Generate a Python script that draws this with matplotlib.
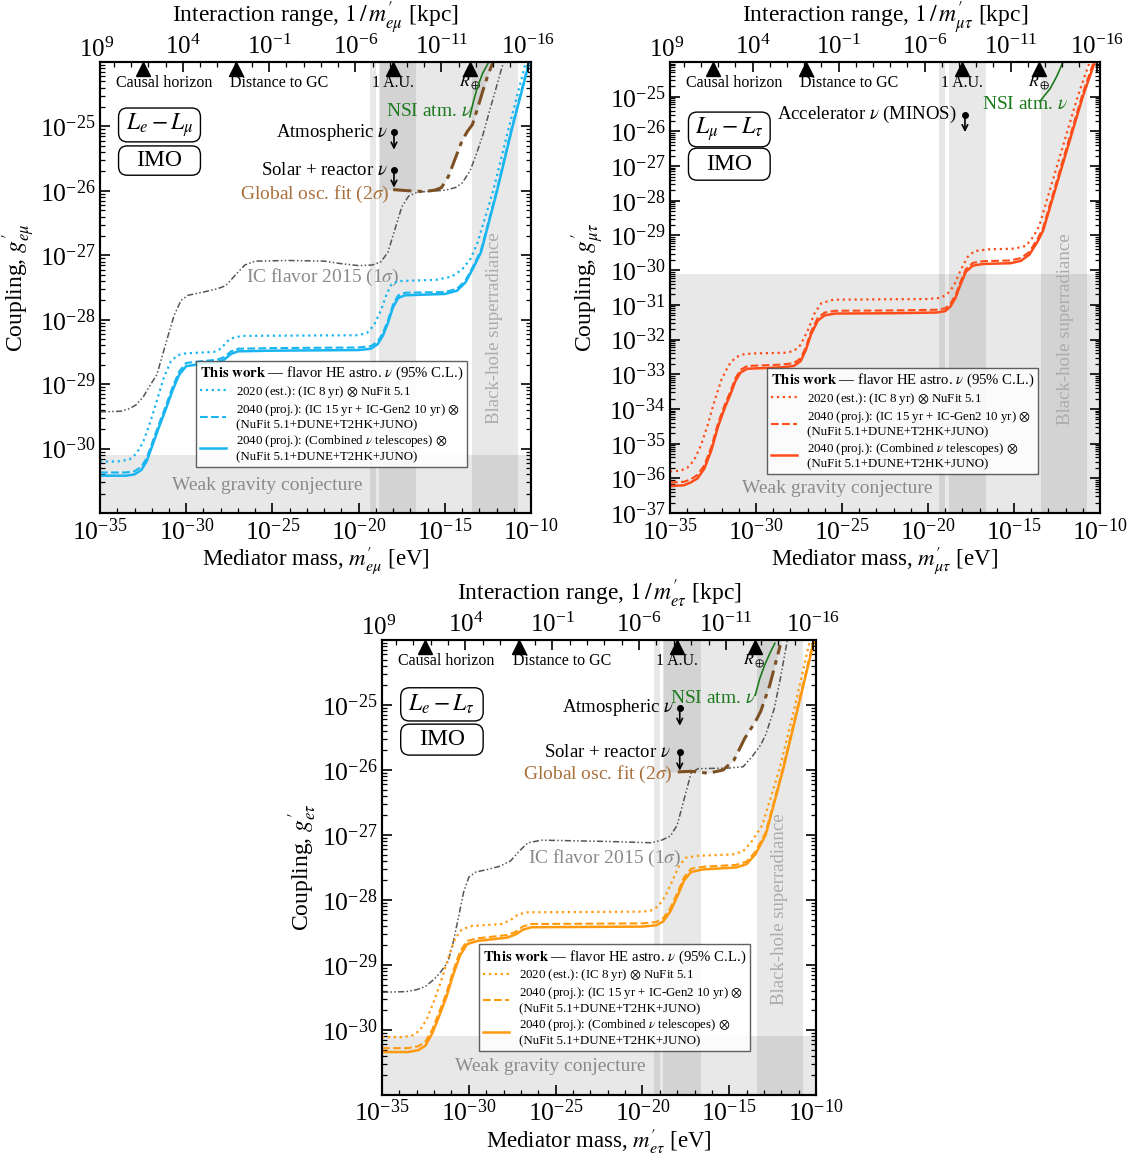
import numpy as np
import matplotlib
matplotlib.use("Agg")
import matplotlib.pyplot as plt
from matplotlib.lines import Line2D
from matplotlib.patches import FancyBboxPatch
from matplotlib.ticker import FixedLocator, LogLocator, NullFormatter

plt.rcParams['font.family'] = 'serif'
plt.rcParams['font.serif'] = ['Liberation Serif', 'DejaVu Serif']
plt.rcParams['mathtext.fontset'] = 'stix'

# hbar*c / kpc in eV  ->  range[kpc] = HBARC_KPC / m[eV]
HBARC_KPC = 6.395e-27

# ---------------- data (log10 m [eV], log10 g) ----------------
landmarks = [-32.5, -27.1, -18.0, -13.54]
landmark_labels = ['Causal horizon', 'Distance to GC', '1 A.U.', r'$R_\oplus$']
landmark_text_x = [-34.07, -27.46, -18.0, -13.54]
landmark_ha = ['left', 'left', 'center', 'center']
vbands = [(-19.35, -19.0), (-18.8, -16.65), (-13.4, -10.75)]
wgc_top = -30.1

# L_e - L_mu
emu_x = [-35.0, -33.5, -33.0, -32.6, -32.3, -32.0, -31.6, -31.2, -30.8, -30.4, -30.0, -29.0, -28.2, -27.8,
         -27.4, -27.0, -25.0, -20.0, -19.3, -18.9, -18.6, -18.3, -18.0, -17.7, -17.3, -15.0, -14.3, -13.8,
         -13.4, -12.9, -12.0, -11.1, -10.1]
emu_solid = [-30.42, -30.42, -30.40, -30.33, -30.20, -29.98, -29.68, -29.40, -29.10, -28.85, -28.72, -28.68,
             -28.66, -28.62, -28.53, -28.49, -28.48, -28.47, -28.45, -28.38, -28.25, -28.05, -27.80, -27.66,
             -27.62, -27.60, -27.55, -27.42, -27.22, -26.95, -26.03, -25.03, -24.0]
emu_dashed = [-30.37, -30.37, -30.35, -30.28, -30.15, -29.93, -29.63, -29.35, -29.05, -28.80, -28.67, -28.64,
              -28.62, -28.58, -28.49, -28.45, -28.44, -28.43, -28.41, -28.34, -28.21, -28.01, -27.76, -27.62,
              -27.58, -27.57, -27.52, -27.39, -27.19, -26.92, -26.0, -25.0, -23.97]
emu_dot_x = [-35.0, -34.0, -33.3, -32.9, -32.5, -32.1, -31.7, -31.3, -30.9, -30.5, -30.0, -28.4, -28.0, -27.6,
             -27.2, -26.6, -20.0, -19.5, -19.1, -18.7, -18.4, -18.1, -17.7, -15.5, -14.6, -14.0, -13.5, -13.1,
             -12.2, -11.3, -10.3]
emu_dotted = [-30.20, -30.20, -30.17, -30.08, -29.90, -29.60, -29.25, -28.90, -28.65, -28.55, -28.52, -28.50,
              -28.45, -28.33, -28.27, -28.25, -28.24, -28.20, -28.08, -27.85, -27.62, -27.45, -27.40, -27.38,
              -27.33, -27.22, -27.05, -26.80, -26.0, -25.03, -24.0]
emu_ic_x = [-35.0, -33.8, -33.3, -32.9, -32.5, -32.1, -31.7, -31.4, -31.0, -30.7, -30.3, -29.9, -29.0, -28.2,
            -27.7, -27.2, -26.6, -26.0, -24.0, -22.0, -21.0, -20.0, -19.2, -18.7, -18.3, -17.9, -17.5, -17.1,
            -16.6, -15.0, -14.4, -14.0, -13.54, -13.2, -12.78, -12.4, -11.97, -11.6]
emu_ic = [-29.43, -29.42, -29.38, -29.32, -29.20, -29.02, -28.85, -28.57, -28.20, -27.93, -27.70, -27.62, -27.57,
          -27.52, -27.47, -27.32, -27.15, -27.09, -27.08, -27.09, -27.13, -27.16, -27.15, -27.10, -26.95, -26.60,
          -26.25, -26.08, -26.02, -25.99, -25.95, -25.88, -25.69, -25.45, -25.12, -24.75, -24.35, -24.0]
emu_osc_x = [-18.0, -17.0, -16.2, -15.6, -15.2, -14.8, -14.4, -14.0, -13.7, -13.4, -13.1, -12.8, -12.5, -12.2]
emu_osc = [-25.98, -26.00, -26.01, -25.99, -25.95, -25.78, -25.50, -25.22, -25.08, -24.97, -24.72, -24.45,
           -24.20, -24.0]
emu_nsi_x = [-13.55, -13.35, -13.1, -12.8, -12.45]
emu_nsi = [-24.85, -24.62, -24.38, -24.17, -24.0]
emu_atm = (-17.95, -25.09)
emu_solar = (-17.95, -25.68)

# L_mu - L_tau
mt_x = [-35.0, -34.2, -33.8, -33.4, -33.0, -32.6, -32.2, -31.8, -31.5, -31.2, -30.9, -30.5, -28.5, -27.8,
        -27.4, -27.1, -26.8, -26.4, -26.0, -25.4, -22.0, -19.5, -19.0, -18.7, -18.4, -18.1, -17.8, -17.4,
        -16.8, -15.2, -14.6, -14.1, -13.6, -13.3, -12.2, -11.0, -10.3]
mt_solid = [-36.22, -36.20, -36.12, -36.0, -35.72, -35.2, -34.5, -33.95, -33.6, -33.2, -32.95, -32.84, -32.80,
            -32.76, -32.62, -32.30, -31.85, -31.45, -31.30, -31.25, -31.24, -31.22, -31.18, -31.05, -30.80,
            -30.40, -30.05, -29.87, -29.82, -29.80, -29.73, -29.55, -29.15, -28.85, -27.0, -25.0, -24.0]
mt_dashed = [-36.12, -36.10, -36.03, -35.9, -35.62, -35.1, -34.4, -33.86, -33.51, -33.12, -32.87, -32.76,
             -32.72, -32.68, -32.54, -32.22, -31.77, -31.37, -31.22, -31.17, -31.16, -31.14, -31.10, -30.97,
             -30.72, -30.32, -29.97, -29.79, -29.74, -29.72, -29.65, -29.47, -29.07, -28.77, -26.9, -24.9, -23.9]
mt_dot_x = [-35.0, -34.4, -34.0, -33.6, -33.2, -32.8, -32.4, -32.0, -31.6, -31.2, -30.8, -30.2, -28.3, -27.8,
            -27.4, -27.0, -26.6, -26.2, -25.5, -20.0, -19.3, -18.9, -18.5, -18.1, -17.7, -17.3, -16.5, -15.0,
            -14.3, -13.9, -13.55, -12.5, -11.3, -10.6]
mt_dotted = [-35.80, -35.78, -35.70, -35.48, -35.05, -34.45, -33.75, -33.15, -32.75, -32.52, -32.43, -32.40,
             -32.38, -32.33, -32.15, -31.75, -31.25, -30.95, -30.85, -30.83, -30.80, -30.70, -30.45, -30.0,
             -29.62, -29.45, -29.40, -29.38, -29.30, -29.05, -28.75, -27.0, -25.0, -24.0]
mt_nsi_x = [-13.49, -13.2, -12.9, -12.5, -12.15]
mt_nsi = [-25.14, -24.95, -24.77, -24.4, -24.0]
mt_minos = (-17.85, -25.52)

# L_e - L_tau
et_x = [-35.0, -33.5, -32.9, -32.5, -32.1, -31.7, -31.3, -30.9, -30.5, -30.1, -29.5, -27.8, -27.3, -26.9,
        -26.4, -20.0, -19.2, -18.8, -18.4, -18.0, -17.6, -17.2, -16.5, -14.6, -14.0, -13.5, -12.9, -11.9,
        -11.0, -10.1]
et_solid = [-30.34, -30.34, -30.31, -30.24, -30.05, -29.78, -29.50, -29.15, -28.85, -28.68, -28.63, -28.58,
            -28.53, -28.46, -28.42, -28.41, -28.39, -28.33, -28.18, -27.95, -27.70, -27.57, -27.53, -27.50,
            -27.45, -27.30, -27.0, -26.0, -25.0, -24.0]
et_dashed = [-30.28, -30.28, -30.25, -30.18, -29.99, -29.72, -29.44, -29.09, -28.79, -28.63, -28.59, -28.54,
             -28.49, -28.41, -28.37, -28.36, -28.34, -28.28, -28.13, -27.90, -27.65, -27.52, -27.49, -27.46,
             -27.41, -27.26, -26.96, -25.96, -24.96, -23.96]
et_dot_x = [-35.0, -33.8, -33.2, -32.8, -32.4, -32.0, -31.6, -31.2, -30.8, -30.4, -29.8, -28.1, -27.6, -27.2,
            -26.7, -20.0, -19.5, -19.1, -18.7, -18.3, -17.9, -17.5, -16.8, -14.8, -14.2, -13.7, -13.1, -12.1,
            -11.2, -10.35]
et_dotted = [-30.11, -30.11, -30.08, -30.00, -29.82, -29.55, -29.25, -28.90, -28.60, -28.45, -28.40, -28.37,
             -28.31, -28.23, -28.19, -28.18, -28.16, -28.10, -27.95, -27.72, -27.48, -27.35, -27.32, -27.30,
             -27.25, -27.10, -26.85, -25.98, -25.0, -24.0]
et_ic_x = [-35.0, -33.6, -33.0, -32.5, -32.0, -31.6, -31.2, -30.9, -30.6, -30.3, -30.0, -29.6, -28.9, -28.2,
           -27.6, -27.1, -26.6, -25.8, -22.0, -19.5, -18.9, -18.4, -18.0, -17.6, -17.2, -16.8, -15.0, -14.2,
           -13.7, -13.2, -12.9, -12.4, -12.06, -11.65]
et_ic = [-29.42, -29.41, -29.38, -29.33, -29.22, -29.10, -28.95, -28.65, -28.27, -27.88, -27.65, -27.57, -27.53,
         -27.48, -27.40, -27.25, -27.12, -27.08, -27.10, -27.12, -27.08, -27.02, -26.85, -26.45, -26.05, -25.98,
         -25.97, -25.95, -25.80, -25.62, -25.46, -25.05, -24.6, -24.0]
et_osc_x = [-17.96, -17.2, -16.2, -15.35, -14.73, -14.1, -13.5, -13.19, -12.67, -12.06]
et_osc = [-26.03, -26.02, -26.05, -26.0, -25.85, -25.51, -25.26, -25.1, -24.7, -24.08]
et_nsi_x = [-13.5, -13.25, -12.95, -12.65, -12.37]
et_nsi = [-24.85, -24.6, -24.38, -24.2, -24.05]
et_atm = (-17.85, -25.04)
et_solar = (-17.85, -25.73)

leg_labels = ['2020 (est.): (IC 8 yr) $\\otimes$ NuFit 5.1',
              '2040 (proj.): (IC 15 yr + IC-Gen2 10 yr) $\\otimes$\n(NuFit 5.1+DUNE+T2HK+JUNO)',
              '2040 (proj.): (Combined $\\nu$ telescopes) $\\otimes$\n(NuFit 5.1+DUNE+T2HK+JUNO)']

SHADE = dict(color='k', alpha=0.09, lw=0, zorder=0)
IC_LS = (0, (4, 1.5, 1, 1.5, 1, 1.5))
OSC_LS = (0, (6, 2, 1.5, 2))
TICK_FS = 18.5
TOP_FS = 18


def P(v):
    return 10.0 ** np.asarray(v)


def frame(ax, sub, ylo, yhi, ylo_tick, boxes_y, wgc_txt, bh_txt):
    ax.set_xscale('log')
    ax.set_yscale('log')
    ax.set_xlim(1e-35, 1e-10)
    ax.set_ylim(10.0 ** ylo, 10.0 ** yhi)
    ax.xaxis.set_major_locator(FixedLocator(P(range(-35, -9, 5))))
    ax.xaxis.set_minor_locator(FixedLocator(P(range(-35, -9))))
    ax.xaxis.set_minor_formatter(NullFormatter())
    ax.yaxis.set_major_locator(FixedLocator(P(range(ylo_tick, -24))))
    ax.yaxis.set_minor_locator(LogLocator(base=10, subs=np.arange(2, 10), numticks=100))
    ax.yaxis.set_minor_formatter(NullFormatter())
    ax.tick_params(which='both', direction='in', right=True, top=False, labelsize=TICK_FS)
    ax.tick_params(which='major', length=7, width=1.2)
    ax.tick_params(which='minor', length=3.5, width=0.9)
    ax.tick_params(axis='x', pad=3.5)
    for s in ax.spines.values():
        s.set_linewidth(1.5)
    ax.set_xlabel(r"Mediator mass, $m^{\prime}_{%s}$ [eV]" % sub, fontsize=16.5, labelpad=0)
    ax.set_ylabel(r"Coupling, $g^{\prime}_{%s}$" % sub, fontsize=17, labelpad=2)

    top = ax.twiny()
    top.set_xscale('log')
    top.set_xlim(HBARC_KPC / 1e-35, HBARC_KPC / 1e-10)
    top.xaxis.set_major_locator(FixedLocator(P(range(9, -17, -5))))
    top.xaxis.set_minor_locator(FixedLocator(P(range(-16, 10))))
    top.xaxis.set_minor_formatter(NullFormatter())
    top.tick_params(which='both', direction='in', labelsize=TOP_FS, pad=2)
    top.tick_params(which='major', length=7, width=1.2)
    top.tick_params(which='minor', length=3.5, width=0.9)
    top.set_xlabel(r"Interaction range, $1\,/\,m^{\prime}_{%s}$ [kpc]" % sub, fontsize=17, labelpad=9)
    for s in top.spines.values():
        s.set_linewidth(1.5)
    # first top label sits just outside the axis range
    top.text(1e9, 1.0, r'$\mathdefault{10^{9}}$', transform=top.get_xaxis_transform(), ha='center',
             va='bottom', fontsize=TOP_FS, clip_on=False)

    # shaded regions
    for lo, hi in vbands:
        ax.axvspan(10 ** lo, 10 ** hi, **SHADE)
    ax.axhspan(10.0 ** (ylo - 1), 10 ** wgc_top, **SHADE)
    ax.text(10 ** wgc_txt[0], 10 ** wgc_txt[1], 'Weak gravity conjecture', color='#8a8a8a',
            fontsize=14, ha='center', va='center')
    ax.text(10 ** bh_txt[0], 10 ** bh_txt[1], 'Black-hole superradiance', color='#ababab',
            fontsize=13.5, ha='center', va='center', rotation=90)

    # landmarks along the top
    tr = ax.get_xaxis_transform()
    for lm, lab, tx, ha in zip(landmarks, landmark_labels, landmark_text_x, landmark_ha):
        ax.plot(10 ** lm, 0.985, marker='^', ms=10, color='k', transform=tr, clip_on=False, zorder=6)
        ax.text(10 ** tx, 0.953, lab, transform=tr, ha=ha, va='center', fontsize=11.5)

    # labels in boxes
    b1, b2 = boxes_y
    names = {'e\\mu': r'$L_e - L_\mu$', '\\mu\\tau': r'$L_\mu - L_\tau$', 'e\\tau': r'$L_e - L_\tau$'}
    for (y0, y1), txt in ((b1, names[sub]), (b2, 'IMO')):
        ax.add_patch(FancyBboxPatch((0.043, y0), 0.19, y1 - y0, boxstyle='round,pad=0,rounding_size=0.02',
                                    transform=ax.transAxes, fc='white', ec='k', lw=1.0, zorder=6))
        ax.text(0.138, (y0 + y1) / 2, txt, transform=ax.transAxes, ha='center', va='center',
                fontsize=17, zorder=7)


def curves(ax, col, xd, yd, x, ys, yl):
    ax.plot(P(xd), P(yd), color=col, ls=':', lw=1.6, zorder=4)
    ax.plot(P(x), P(ys), color=col, ls='-', lw=1.8, zorder=4)
    ax.plot(P(x), P(yl), color=col, ls='--', lw=1.5, zorder=4)
    hs = [Line2D([], [], color=col, ls=ls, lw=w) for ls, w in ((':', 1.6), ('--', 1.5), ('-', 1.8))]
    return hs


def legend(ax, hs, anchor):
    leg = ax.legend(hs, leg_labels, title=r'$\mathbf{This\ work}$ — flavor HE astro. $\nu$ (95% C.L.)',
                    loc='lower left', bbox_to_anchor=anchor, fontsize=9.3, title_fontsize=10.6,
                    frameon=True, fancybox=False, edgecolor='#444444', framealpha=0.85,
                    handlelength=2.0, borderpad=0.3, labelspacing=0.15, handletextpad=0.8,
                    borderaxespad=0, alignment='left')
    leg.get_frame().set_linewidth(1.0)
    leg.set_zorder(10)


def arrow_bound(ax, pt, length, label, tx):
    x, y = 10 ** pt[0], 10 ** pt[1]
    ax.plot(x, y, 'o', color='k', ms=4, zorder=6)
    ax.annotate('', xy=(x, 10 ** (pt[1] - length)), xytext=(x, y),
                arrowprops=dict(arrowstyle='->', lw=1.2, color='k', shrinkA=0, shrinkB=0), zorder=6)
    ax.text(10 ** tx, y, label, ha='right', va='center', fontsize=13.5)


def osc_ic(ax, osc_x, osc, ic_x, ic, nsi_x, nsi, nsi_txt, osc_txt, ic_txt):
    fx = np.concatenate(([vbands[1][0]], osc_x))
    fy = np.concatenate(([osc[0]], osc))
    ax.fill_between(P(fx), P(fy), 1e-20, **SHADE)
    ax.plot(P(osc_x), P(osc), color='#7d5024', ls=OSC_LS, lw=2.2, zorder=5)
    ax.plot(P(ic_x), P(ic), color='#555555', ls=IC_LS, lw=1.1, zorder=3)
    ax.plot(P(nsi_x), P(nsi), color='#1e7a1e', lw=1.2, zorder=5)
    ax.text(10 ** nsi_txt[0], 10 ** nsi_txt[1], r'NSI atm. $\nu$', color='#1e7a1e', fontsize=14,
            ha='right', va='center')
    ax.text(10 ** osc_txt[0], 10 ** osc_txt[1], r'Global osc. fit (2$\sigma$)', color='#a8703c',
            fontsize=14, ha='right', va='center')
    ax.text(10 ** ic_txt[0], 10 ** ic_txt[1], r'IC flavor 2015 (1$\sigma$)', color='#8a8a8a',
            fontsize=14, ha='left', va='center')


fig = plt.figure(figsize=(11.34, 11.55), dpi=100)

# ---- L_e - L_mu
ax = fig.add_axes([0.0882, 0.5558, 0.3801, 0.3905])
frame(ax, 'e\\mu', -31, -24, -30, ((0.823, 0.898), (0.749, 0.814)), (-25.3, -30.57), (-12.1, -28.13))
osc_ic(ax, emu_osc_x, emu_osc, emu_ic_x, emu_ic, emu_nsi_x, emu_nsi,
       (-13.42, -24.77), (-18.2, -26.05), (-26.55, -27.35))
arrow_bound(ax, emu_atm, 0.27, r'Atmospheric $\nu$', -18.3)
arrow_bound(ax, emu_solar, 0.27, r'Solar + reactor $\nu$', -18.3)
hs = curves(ax, '#19b5f0', emu_dot_x, emu_dotted, emu_x, emu_solid, emu_dashed)
legend(ax, hs, (0.223, 0.102))

# ---- L_mu - L_tau
ax = fig.add_axes([0.5908, 0.5558, 0.3792, 0.3905])
frame(ax, '\\mu\\tau', -37, -24, -37, ((0.812, 0.889), (0.738, 0.809)), (-25.3, -36.29), (-12.0, -31.7))
ax.plot(P(mt_nsi_x), P(mt_nsi), color='#1e7a1e', lw=1.2, zorder=5)
ax.text(10 ** -11.86, 10 ** -25.23, r'NSI atm. $\nu$', color='#1e7a1e', fontsize=14, ha='right', va='center')
arrow_bound(ax, mt_minos, 0.5, r'Accelerator $\nu$ (MINOS)', -18.31)
hs = curves(ax, '#ff4d1a', mt_dot_x, mt_dotted, mt_x, mt_solid, mt_dashed)
legend(ax, hs, (0.226, 0.086))

# ---- L_e - L_tau
ax = fig.add_axes([0.3369, 0.0520, 0.3827, 0.3939])
frame(ax, 'e\\tau', -31, -24, -30, ((0.822, 0.895), (0.747, 0.815)), (-25.3, -30.56), (-12.08, -28.14))
osc_ic(ax, et_osc_x, et_osc, et_ic_x, et_ic, et_nsi_x, et_nsi,
       (-13.46, -24.9), (-18.26, -26.07), (-26.57, -27.36))
arrow_bound(ax, et_atm, 0.28, r'Atmospheric $\nu$', -18.2)
arrow_bound(ax, et_solar, 0.28, r'Solar + reactor $\nu$', -18.37)
hs = curves(ax, '#ff9a0f', et_dot_x, et_dotted, et_x, et_solid, et_dashed)
legend(ax, hs, (0.224, 0.097))

fig.savefig('out.png', dpi=100)
